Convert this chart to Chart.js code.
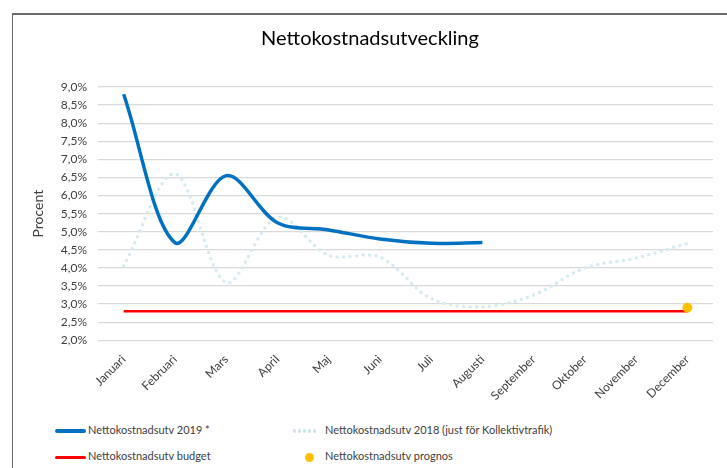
<!DOCTYPE html>
<html>
<head>
<meta charset="utf-8">
<script src="https://cdn.jsdelivr.net/npm/chart.js@4"></script>
<style>
  body { margin: 0; background: #fff; font-family: Lato, "Noto Sans", sans-serif; }
  #wrap { position: relative; width: 727px; height: 468px; overflow: hidden; }
  #frame { position: absolute; left: 12px; top: 13px; width: 715px; height: 455px;
           border-top: 2px solid #6b6b6b; border-left: 1px solid #6b6b6b; box-sizing: border-box; }
  #chart { position: absolute; left: 0; top: 0; }
  .leg { position: absolute; font-size: 11px; color: #404040; white-space: nowrap; }
  .mark { position: absolute; }
</style>
</head>
<body>
<div id="wrap">
  <div id="frame"></div>
  <canvas id="chart" width="727" height="410"></canvas>
  <div id="legend"></div>
</div>
<script>
// data
const months = ["Januari", "Februari", "Mars", "April", "Maj", "Juni", "Juli", "Augusti", "September", "Oktober", "November", "December"];
const utv2019 = [8.8, 4.7, 6.55, 5.25, 5.05, 4.8, 4.68, 4.7, null, null, null, null];
const utv2018 = [4.05, 6.6, 3.6, 5.4, 4.35, 4.3, 3.15, 2.92, 3.25, 4.0, 4.27, 4.68];
const budget = [2.8, 2.8, 2.8, 2.8, 2.8, 2.8, 2.8, 2.8, 2.8, 2.8, 2.8, 2.8];
const prognos = [null, null, null, null, null, null, null, null, null, null, null, 2.9];
const yTicks = { min: 2, max: 9, step: 0.5 };

const seriesNames = ["Nettokostnadsutv 2019 *", "Nettokostnadsutv 2018 (just för Kollektivtrafik)", "Nettokostnadsutv budget", "Nettokostnadsutv prognos"];

const ctx = document.getElementById("chart").getContext("2d");
Chart.defaults.font.family = "Lato, 'Noto Sans', sans-serif";
Chart.defaults.color = "#404040";

const chart = new Chart(ctx, {
  type: "line",
  data: {
    labels: months,
    datasets: [
      {
        label: seriesNames[1],
        data: utv2018,
        borderColor: "#d5eaf1",
        borderWidth: 3.5,
        borderDash: [0, 6.5],
        borderCapStyle: "round",
        tension: 0.33,
        pointRadius: 0,
        order: 3
      },
      {
        label: seriesNames[0],
        data: utv2019,
        borderColor: "#0070c0",
        borderWidth: 3.5,
        tension: 0.33,
        pointRadius: 0,
        order: 1
      },
      {
        label: seriesNames[2],
        data: budget,
        borderColor: "#ff0000",
        borderWidth: 2.5,
        tension: 0,
        pointRadius: 0,
        order: 2
      },
      {
        label: seriesNames[3],
        data: prognos,
        showLine: false,
        pointRadius: 4.5,
        pointBackgroundColor: "#ffc000",
        pointBorderColor: "#ffc000",
        order: 0
      }
    ]
  },
  options: {
    responsive: false,
    animation: false,
    layout: { padding: { left: 27, right: 14, top: 27, bottom: 3 } },
    plugins: {
      legend: { display: false },
      tooltip: { enabled: false },
      title: {
        display: true,
        text: "Nettokostnadsutveckling",
        color: "#000",
        font: { size: 20, weight: "normal" },
        padding: { top: 0, bottom: 36 }
      }
    },
    scales: {
      x: {
        offset: true,
        grid: { display: false },
        border: { display: false },
        ticks: { minRotation: 45, maxRotation: 45, font: { size: 12 }, padding: 4 }
      },
      y: {
        min: yTicks.min,
        max: yTicks.max,
        border: { display: false },
        grid: { color: "#d9d9d9", lineWidth: 1.3, drawTicks: false },
        ticks: {
          stepSize: yTicks.step,
          padding: 11,
          font: { size: 12 },
          callback: v => v.toFixed(1).replace(".", ",") + "%"
        },
        title: { display: true, text: "Procent", font: { size: 14 }, padding: 3 }
      }
    }
  }
});

// two-column legend like the original
const legendItems = [
  { name: seriesNames[0], x: 55, y: 431, type: "solid", color: "#0070c0", w: 4 },
  { name: seriesNames[1], x: 292, y: 431, type: "dots", color: "#cfe6ee", w: 3 },
  { name: seriesNames[2], x: 55, y: 457, type: "solid", color: "#ff0000", w: 3 },
  { name: seriesNames[3], x: 292, y: 457, type: "point", color: "#ffc000", w: 9 }
];
const legend = document.getElementById("legend");
legendItems.forEach(it => {
  const m = document.createElement("div");
  m.className = "mark";
  if (it.type === "point") {
    m.style.left = (it.x + 13) + "px";
    m.style.top = (it.y - 4.5) + "px";
    m.style.width = "9px";
    m.style.height = "9px";
    m.style.borderRadius = "50%";
    m.style.background = it.color;
  } else if (it.type === "dots") {
    m.style.left = it.x + "px";
    m.style.top = (it.y - 2) + "px";
    m.style.width = "26px";
    m.style.height = "4px";
    m.style.background = "radial-gradient(circle, " + it.color + " 1.6px, transparent 2px) 0 0 / 5px 4px repeat-x";
  } else {
    m.style.left = it.x + "px";
    m.style.top = (it.y - it.w / 2) + "px";
    m.style.width = "31px";
    m.style.borderTop = it.w + "px solid " + it.color;
    m.style.borderRadius = "2px";
  }
  legend.appendChild(m);
  const t = document.createElement("div");
  t.className = "leg";
  t.textContent = it.name;
  t.style.left = (it.x + 33) + "px";
  t.style.top = (it.y - 8) + "px";
  legend.appendChild(t);
});
</script>
</body>
</html>
